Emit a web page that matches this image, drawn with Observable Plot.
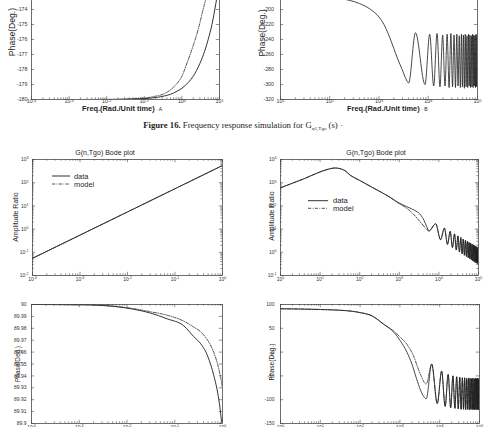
<!DOCTYPE html>
<html><head><meta charset="utf-8">
<script src="https://cdn.jsdelivr.net/npm/d3@7"></script>
<script src="https://cdn.jsdelivr.net/npm/@observablehq/plot@0.6"></script>
<style>
html,body{margin:0;padding:0;background:#fff;}
#page{position:relative;width:486px;height:427px;overflow:hidden;background:#fff;}
.panel{position:absolute;}
#overlay{position:absolute;left:0;top:0;pointer-events:none;}
</style></head>
<body><div id="page"></div>
<script>
// ---------- Panel A: phase, figure 16 (left) ----------
const aXTicks = [1e-4, 1e-3, 1e-2, 1e-1, 1, 10];
const aYTicks = [-180, -179, -178, -177, -176, -175, -174];
const aFreq = [1e-4, 1e-3, 1e-2, 0.05, 0.1, 0.2, 0.35, 0.5, 0.7, 1, 1.5, 2, 3, 4, 5, 6.3, 8, 10];
const aData = [-180, -180, -180, -179.97, -179.94, -179.87, -179.76, -179.65, -179.48, -179.25, -178.85, -178.45, -177.6, -176.8, -176.0, -175.0, -173.6, -172.2];
const aModelFreq = [1e-4, 1e-3, 1e-2, 0.05, 0.1, 0.2, 0.35, 0.5, 0.7, 1, 1.4, 2, 2.8, 3.5, 4.2, 5];
const aModel = [-180, -180, -179.99, -179.95, -179.9, -179.78, -179.6, -179.35, -179.0, -178.45, -177.5, -176.4, -175.2, -174.2, -173.4, -172.5];

// ---------- Panel B: phase, figure 16 (right) ----------
const bXTicks = [10, 100, 1000, 1e4, 1e5];
const bYTicks = [-320, -300, -280, -260, -240, -220, -200];
const bFreq = [10, 30, 60, 100, 150, 260, 400, 676, 1000, 1260, 1600, 2000, 2400, 2950, 3500];
const bPhase = [-180, -180.5, -181.5, -183, -185, -188, -192, -200, -210, -220, -235, -252, -266, -280, -292];
const bOscFreq = [4000, 5500, 8600, 10700, 12900, 15100, 17300, 19600, 21900, 24200, 26500, 28800, 31100, 33400, 35700, 38000, 40300, 42600, 44900, 47200, 49500, 51800, 54100, 56400, 58700, 61000, 63300, 65600, 67900, 70200, 72500, 74800, 77100, 79400, 81700, 84000, 86300, 88600, 90900, 93200, 95500, 97800, 100000];
const bOscPhase = [-298, -231, -300, -233, -302, -232, -303, -234, -302, -233, -304, -232, -303, -234, -304, -233, -302, -235, -304, -233, -303, -234, -305, -233, -303, -235, -304, -233, -302, -234, -304, -235, -303, -233, -304, -234, -302, -235, -304, -233, -303, -234, -304];

// ---------- Panel C: amplitude, G(n,Tgo) left ----------
const cXTicks = [1e-4, 1e-3, 1e-2, 1e-1, 1];
const cYTicks = [1e-2, 1e-1, 1, 10, 100, 1000];
const cFreq = [1e-4, 1e-3, 1e-2, 1e-1, 1];
const cData = [0.055, 0.55, 5.5, 55, 550];
const cModel = [0.055, 0.55, 5.5, 55, 550];

// ---------- Panel D: amplitude, G(n,Tgo) right ----------
const dXTicks = [1, 10, 100, 1000, 1e4, 1e5];
const dYTicks = [0.1, 1, 10, 100, 1000, 1e4];
const dFreq = [1, 2, 4, 8, 15, 24, 40, 59, 100, 200, 338, 600, 890, 1400, 2000, 2800, 3500, 4200, 4900];
const dData = [600, 950, 1500, 2500, 3700, 4300, 3500, 2050, 1250, 650, 400, 230, 148, 100, 76, 56, 40, 24, 13];
const dModelFreq = [1, 2, 4, 8, 15, 24, 40, 59, 100, 200, 338, 600, 890, 1400, 2000, 2800, 3700, 4600];
const dModel = [600, 950, 1500, 2500, 3700, 4300, 3500, 2050, 1250, 650, 400, 225, 140, 88, 55, 30, 17, 11];
const dOscFreq = [5600, 8300, 11000, 13800, 16500, 19300, 22000, 24800, 27500, 30300, 33000, 35800, 38500, 41300, 44000, 46800, 49500, 52300, 55000, 57800, 60500, 63300, 66000, 68800, 71500, 74300, 77000, 79800, 82500, 85300, 88000, 90800, 93500, 96300, 99000];
const dOscAmp = [8.3, 17, 3.5, 11, 2.2, 8.0, 1.6, 6.2, 1.25, 5.1, 1.03, 4.3, 0.87, 3.7, 0.75, 3.3, 0.66, 2.95, 0.59, 2.67, 0.53, 2.44, 0.48, 2.24, 0.44, 2.08, 0.40, 1.93, 0.37, 1.81, 0.35, 1.70, 0.33, 1.60, 0.31];

// ---------- Panel E: phase, G(n,Tgo) left ----------
const eXTicks = [1e-4, 1e-3, 1e-2, 1e-1, 1];
const eYTicks = [89.9, 89.91, 89.92, 89.93, 89.94, 89.95, 89.96, 89.97, 89.98, 89.99, 90];
const eFreq = [1e-4, 1e-3, 3e-3, 0.0138, 0.03, 0.069, 0.155, 0.25, 0.35, 0.45, 0.56, 0.68, 0.8, 0.88, 0.95, 1];
const eData = [90, 89.9998, 89.9992, 89.996, 89.993, 89.988, 89.982, 89.973, 89.967, 89.96, 89.95, 89.938, 89.925, 89.914, 89.903, 89.899];
const eModelFreq = [1e-4, 1e-3, 3e-3, 0.0138, 0.03, 0.069, 0.155, 0.25, 0.35, 0.45, 0.56, 0.68, 0.8, 0.9, 1];
const eModel = [90, 89.9998, 89.9993, 89.9965, 89.994, 89.991, 89.986, 89.981, 89.977, 89.972, 89.966, 89.958, 89.949, 89.94, 89.93];

// ---------- Panel F: phase, G(n,Tgo) right ----------
const fXTicks = [1, 10, 100, 1000, 1e4, 1e5];
const fYTicks = [-150, -100, -50, 0, 50, 100];
const fFreq = [1, 3, 10, 30, 60, 100, 200, 400, 700, 1000, 1500, 2000, 2600, 3300, 4000];
const fData = [91, 90.5, 89.5, 88, 86, 83, 76, 58, 42, 25, 0, -25, -55, -80, -94];
const fModelFreq = [1, 3, 10, 30, 60, 100, 200, 400, 700, 1000, 1600, 2200, 2800, 3500, 4100, 4600];
const fModel = [91, 90.5, 89.5, 88, 86, 83, 76, 58, 44, 32, 13, -8, -32, -52, -64, -67];
const fOscFreq = [4600, 6300, 8700, 11200, 13700, 16300, 18900, 21500, 24100, 26700, 29300, 31900, 34500, 37100, 39700, 42300, 44900, 47500, 50100, 52700, 55300, 57900, 60500, 63100, 65700, 68300, 70900, 73500, 76100, 78700, 81300, 83900, 86500, 89100, 91700, 94300, 96900, 99500];
const fOscPhase = [-98, -25, -108, -40, -114, -47, -117, -50, -118, -52, -119, -53, -120, -54, -120, -54, -121, -55, -120, -55, -121, -55, -120, -56, -121, -55, -120, -56, -121, -55, -120, -56, -121, -55, -120, -56, -121, -55];

// ---------- helpers ----------
const pts = (xs, ys) => xs.slice(0, Math.min(xs.length, ys.length)).map((x, i) => ({x, y: ys[i]}));
const pow10 = d => `10^${Math.round(Math.log10(d))}`;
const plain = d => String(d);
const minors = (majors, max) => majors.flatMap(t => [2,3,4,5,6,7,8,9].map(k => t * k)).filter(v => v < max * 0.999);
const INK = "#1c1c1c";
const SOLID = {stroke: INK, width: 0.9};
const DASHDOT = {stroke: "#333", width: 0.85, dash: "3.2,1.4,0.8,1.4"};

function panel(cfg) {
  const [x0, x1, y0, y1] = cfg.frame;
  const mL = 36, mR = 6, mT = 8, mB = 14;
  const iw = x1 - x0, ih = y1 - y0;
  const W = iw + mL + mR, H = ih + mT + mB;
  const big = 3.2, small = 1.7;
  const tk = {stroke: "#4a4a4a", strokeWidth: 0.6};
  const yMarks = cfg.yTickMarks || cfg.yTicks;
  const marks = [
    Plot.tickX(cfg.xTicks, {x: d => d, insetTop: ih - big, ...tk}),
    Plot.tickX(cfg.xTicks, {x: d => d, insetBottom: ih - big, ...tk}),
    Plot.tickY(yMarks, {y: d => d, insetRight: iw - big, ...tk}),
    Plot.tickY(yMarks, {y: d => d, insetLeft: iw - big, ...tk})
  ];
  const xm = minors(cfg.xTicks, cfg.xDomain[1]);
  marks.push(Plot.tickX(xm, {x: d => d, insetTop: ih - small, ...tk}),
             Plot.tickX(xm, {x: d => d, insetBottom: ih - small, ...tk}));
  if (cfg.yType === "log") {
    const ym = minors(cfg.yTicks, cfg.yDomain[1]);
    marks.push(Plot.tickY(ym, {y: d => d, insetRight: iw - small, ...tk}),
               Plot.tickY(ym, {y: d => d, insetLeft: iw - small, ...tk}));
  }
  for (const s of cfg.series) {
    marks.push(Plot.line(s.data, {x: "x", y: "y", curve: "monotone-x", stroke: s.stroke,
      strokeWidth: s.width, strokeDasharray: s.dash, clip: true}));
  }
  marks.push(Plot.frame({stroke: "#4a4a4a", strokeWidth: 0.8}));
  const svg = Plot.plot({
    width: W, height: H,
    marginLeft: mL, marginRight: mR, marginTop: mT, marginBottom: mB,
    x: {type: "log", domain: cfg.xDomain, ticks: cfg.xTicks, tickFormat: pow10, tickSize: 0, tickPadding: cfg.xPad, label: null},
    y: {type: cfg.yType, domain: cfg.yDomain, ticks: cfg.yTicks, tickFormat: cfg.yType === "log" ? pow10 : plain, tickSize: 0, tickPadding: cfg.yPad, label: null},
    style: {background: "transparent", overflow: "visible", fontFamily: "'Liberation Sans', Arial, sans-serif", fontSize: cfg.fs + "px", color: "#333", maxWidth: "none"},
    marks
  });
  svg.querySelectorAll("text").forEach(t => {
    const m = t.textContent.match(/^10\^(-?\d+)$/);
    if (m) {
      t.textContent = "10";
      const ts = document.createElementNS("http://www.w3.org/2000/svg", "tspan");
      ts.setAttribute("dy", "-0.5em");
      ts.setAttribute("font-size", "72%");
      ts.textContent = m[1];
      t.appendChild(ts);
    }
  });
  const div = document.createElement("div");
  div.className = "panel";
  div.style.left = (x0 - mL) + "px";
  div.style.top = (y0 - mT) + "px";
  div.style.width = W + "px";
  div.style.height = H + "px";
  div.appendChild(svg);
  document.getElementById("page").appendChild(div);
}

panel({frame: [31, 219, -6, 99], xDomain: [1e-4, 10], yType: "linear", yDomain: [-180, -173],
  xTicks: aXTicks, yTicks: aYTicks, yTickMarks: aYTicks.concat([-173]), fs: 5.3, xPad: 0.2, yPad: 4,
  series: [{data: pts(aFreq, aData), ...SOLID}, {data: pts(aModelFreq, aModel), ...DASHDOT}]});

panel({frame: [280, 477, -6, 99], xDomain: [10, 1e5], yType: "linear", yDomain: [-320, -180],
  xTicks: bXTicks, yTicks: bYTicks, yTickMarks: bYTicks.concat([-180]), fs: 5.3, xPad: 0.2, yPad: 6.5,
  series: [{data: pts(bFreq, bPhase).concat(pts(bOscFreq, bOscPhase)), ...SOLID, width: 0.8}]});

panel({frame: [32, 222, 159, 275], xDomain: [1e-4, 1], yType: "log", yDomain: [1e-2, 1e3],
  xTicks: cXTicks, yTicks: cYTicks, fs: 5, xPad: 2, yPad: 4,
  series: [{data: pts(cFreq, cData), ...SOLID}, {data: pts(cFreq, cModel), ...DASHDOT}]});

panel({frame: [280, 478, 159, 275], xDomain: [1, 1e5], yType: "log", yDomain: [0.1, 1e4],
  xTicks: dXTicks, yTicks: dYTicks, fs: 5, xPad: 2, yPad: 4,
  series: [{data: pts(dModelFreq, dModel).concat(pts(dOscFreq, dOscAmp)), ...DASHDOT},
           {data: pts(dFreq, dData).concat(pts(dOscFreq, dOscAmp)), ...SOLID, width: 0.8}]});

panel({frame: [31, 222, 304, 423], xDomain: [1e-4, 1], yType: "linear", yDomain: [89.9, 90],
  xTicks: eXTicks, yTicks: eYTicks, fs: 5, xPad: 1.5, yPad: 5,
  series: [{data: pts(eFreq, eData), ...SOLID}, {data: pts(eModelFreq, eModel), ...DASHDOT}]});

panel({frame: [280, 479, 304, 423], xDomain: [1, 1e5], yType: "linear", yDomain: [-150, 100],
  xTicks: fXTicks, yTicks: fYTicks, fs: 5, xPad: 1.5, yPad: 6,
  series: [{data: pts(fModelFreq, fModel).concat(pts(fOscFreq.slice(1), fOscPhase.slice(1))), ...DASHDOT},
           {data: pts(fFreq, fData).concat(pts(fOscFreq, fOscPhase)), ...SOLID, width: 0.8}]});

// ---------- texts ----------
const SANS = "'Liberation Sans', Arial, sans-serif";
const SERIF = "'Liberation Serif', 'Times New Roman', serif";
const overlay = `
<svg id="overlay" width="486" height="427" xmlns="http://www.w3.org/2000/svg" font-family="${SANS}" fill="#1e1e1e">
  <text transform="translate(11.5,32) rotate(-90)" text-anchor="middle" dominant-baseline="central" font-size="8.6">Phase(Deg.)</text>
  <text transform="translate(262,33) rotate(-90)" text-anchor="middle" dominant-baseline="central" font-size="8.4">Phase(Deg.)</text>
  <text x="82" y="111.4" font-size="7.4" font-weight="bold">Freq.(Rad./Unit time)<tspan font-size="5" font-weight="normal"> · A</tspan></text>
  <text x="347" y="111.4" font-size="7.4" font-weight="bold">Freq.(Rad./Unit time)<tspan font-size="5" font-weight="normal"> · B</tspan></text>
  <text x="243" y="128" text-anchor="middle" font-family="${SERIF}" font-size="8.7"><tspan font-weight="bold">Figure 16.</tspan> Frequency response simulation for G<tspan font-size="5" dy="2">φ1,Tgo</tspan><tspan dy="-2"> (s)</tspan> ·</text>
  <text x="105" y="154.5" text-anchor="middle" font-size="7">G(n,Tgo) Bode plot</text>
  <text x="376" y="154.5" text-anchor="middle" font-size="7">G(n,Tgo) Bode plot</text>
  <text transform="translate(15,217) rotate(-90)" text-anchor="middle" dominant-baseline="central" font-size="7">Amplitude Ratio</text>
  <text transform="translate(271,216) rotate(-90)" text-anchor="middle" dominant-baseline="central" font-size="7">Amplitude Ratio</text>
  <text transform="translate(17,364) rotate(-90)" text-anchor="middle" dominant-baseline="central" font-size="6.4">Phase(Deg.)</text>
  <text transform="translate(271,362) rotate(-90)" text-anchor="middle" dominant-baseline="central" font-size="6.6">Phase(Deg.)</text>
  <line x1="52" x2="70" y1="176" y2="176" stroke="${INK}" stroke-width="0.9"/>
  <line x1="52" x2="70" y1="184" y2="184" stroke="#333" stroke-width="0.85" stroke-dasharray="3.2,1.4,0.8,1.4"/>
  <text x="74" y="176" dominant-baseline="central" font-size="7.4">data</text>
  <text x="74" y="184" dominant-baseline="central" font-size="7.4">model</text>
  <line x1="308" x2="328" y1="200.7" y2="200.7" stroke="${INK}" stroke-width="0.9"/>
  <line x1="308" x2="328" y1="208.3" y2="208.3" stroke="#333" stroke-width="0.85" stroke-dasharray="3.2,1.4,0.8,1.4"/>
  <text x="333" y="200.7" dominant-baseline="central" font-size="7.6">data</text>
  <text x="333" y="208.3" dominant-baseline="central" font-size="7.6">model</text>
</svg>`;
document.getElementById("page").insertAdjacentHTML("beforeend", overlay);
</script>
</body></html>
